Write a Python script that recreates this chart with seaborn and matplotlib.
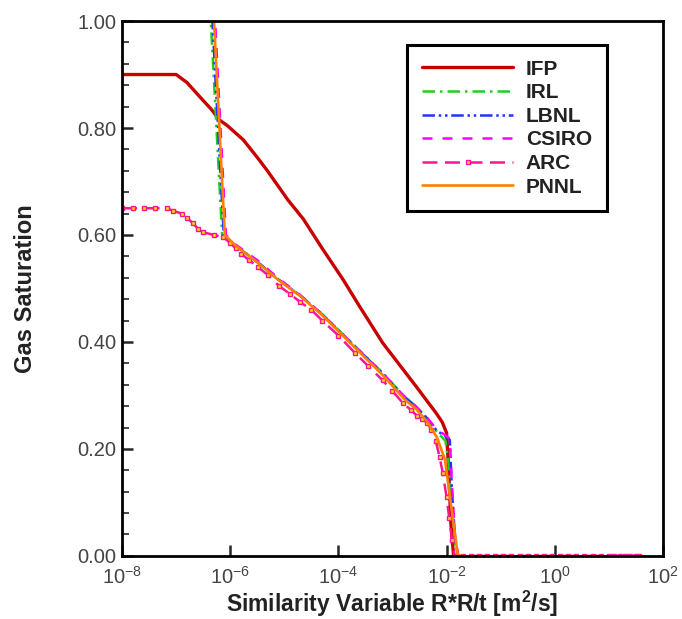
import numpy as np
import pandas as pd
import matplotlib
matplotlib.use("Agg")
import matplotlib.pyplot as plt
import seaborn as sns
from matplotlib.ticker import FixedLocator, FixedFormatter, MultipleLocator, FormatStrFormatter, NullLocator

# ---- data (x given as log10 exponents) ----
ifp_logx = [-8.0, -7.0, -6.8, -6.56, -6.35, -6.2, -6.06, -5.76, -5.5, -5.32, -4.93, -4.65,
            -4.3, -3.91, -3.6, -3.18, -2.8, -2.55, -2.35, -2.2, -2.08, -2.0, -1.96, -1.92, -1.87]
ifp_y = [0.90, 0.90, 0.885, 0.858, 0.835, 0.815, 0.805, 0.778, 0.745, 0.721, 0.665, 0.630,
         0.575, 0.516, 0.465, 0.398, 0.348, 0.315, 0.288, 0.268, 0.250, 0.230, 0.16, 0.06, 0.0]

pnnl_logx = [-8.0, -6.30, -6.10, -5.9, -5.49, -5.1, -4.71, -4.3, -3.7, -3.18, -2.8, -2.55,
             -2.35, -2.18, -2.03, -1.95, -1.88, -1.79, -1.7]
pnnl_y = [1.0, 1.0, 0.60, 0.58, 0.548, 0.515, 0.486, 0.450, 0.390, 0.338, 0.295, 0.273,
          0.250, 0.222, 0.180, 0.120, 0.067, 0.0, 0.0]

irl_logx = [-8.0, -6.36, -6.15, -5.9, -5.49, -5.1, -4.71, -4.3, -3.7, -3.18, -2.8, -2.55,
            -2.35, -2.18, -2.02, -1.96, -1.9, -1.84, -1.78]
irl_y = [1.0, 1.0, 0.60, 0.58, 0.549, 0.516, 0.487, 0.452, 0.393, 0.342, 0.300, 0.278,
         0.256, 0.232, 0.215, 0.17, 0.09, 0.02, 0.0]

lbnl_logx = [-8.0, -6.33, -6.12, -5.9, -5.49, -5.1, -4.71, -4.3, -3.7, -3.18, -2.8, -2.55,
             -2.35, -2.18, -2.0, -1.94, -1.9, -1.84, -1.79]
lbnl_y = [1.0, 1.0, 0.60, 0.58, 0.549, 0.516, 0.487, 0.451, 0.392, 0.341, 0.299, 0.277,
          0.256, 0.234, 0.222, 0.217, 0.12, 0.03, 0.0]

csiro_logx = [-8.0, -6.28, -6.08, -5.9, -5.49, -5.1, -4.71, -4.3, -3.7, -3.18, -2.8, -2.55,
              -2.35, -2.18, -2.0, -1.94, -1.9, -1.84, -1.78]
csiro_y = [1.0, 1.0, 0.60, 0.582, 0.552, 0.518, 0.488, 0.452, 0.392, 0.341, 0.300, 0.278,
           0.257, 0.236, 0.224, 0.219, 0.13, 0.03, 0.0]

arc_logx = [-8.0, -7.8, -7.6, -7.4, -7.17, -7.05, -6.9, -6.8, -6.69, -6.6, -6.5, -6.3, -6.13,
            -6.0, -5.9, -5.8, -5.65, -5.49, -5.3, -5.1, -4.9, -4.71, -4.5, -4.3, -4.0,
            -3.7, -3.45, -3.18, -3.0, -2.8, -2.65, -2.55, -2.45, -2.36, -2.28, -2.2, -2.13,
            -2.07, -2.0, -1.95, -1.9, -1.85,
            -1.7, -1.55, -1.4, -1.25, -1.1, -0.95, -0.8, -0.65, -0.5, -0.35, -0.2, -0.05,
            0.1, 0.25, 0.4, 0.55, 0.7, 0.85, 1.0, 1.1, 1.2, 1.3, 1.4, 1.5, 1.55]
arc_y = [0.65, 0.65, 0.65, 0.65, 0.65, 0.645, 0.64, 0.632, 0.622, 0.612, 0.605, 0.600, 0.596,
         0.585, 0.575, 0.565, 0.553, 0.540, 0.525, 0.505, 0.490, 0.475, 0.460, 0.440, 0.412,
         0.380, 0.355, 0.328, 0.308, 0.285, 0.272, 0.262, 0.256, 0.249, 0.235, 0.215, 0.185,
         0.155, 0.11, 0.07, 0.03, 0.0,
         0.0, 0.0, 0.0, 0.0, 0.0, 0.0, 0.0, 0.0, 0.0, 0.0, 0.0, 0.0,
         0.0, 0.0, 0.0, 0.0, 0.0, 0.0, 0.0, 0.0, 0.0, 0.0, 0.0, 0.0, 0.0]

x_tick_exps = [-8, -6, -4, -2, 0, 2]
x_tick_labels = ["10$^{-8}$", "10$^{-6}$", "10$^{-4}$", "10$^{-2}$", "10$^{0}$", "10$^{2}$"]

# ---- style ----
sns.set_style("ticks")
plt.rcParams["font.family"] = ["Liberation Sans", "DejaVu Sans"]
plt.rcParams["mathtext.fontset"] = "custom"
plt.rcParams["mathtext.rm"] = "Liberation Sans"
plt.rcParams["mathtext.it"] = "Liberation Sans:italic"
plt.rcParams["mathtext.bf"] = "Liberation Sans:bold"

fig = plt.figure(figsize=(6.82, 6.19), dpi=100)
ax = fig.add_axes([0.179, 0.102, 0.793, 0.864])

series = [
    ("IFP", ifp_logx, ifp_y, "#c80000", "-", 2.4, {}),
    ("IRL", irl_logx, irl_y, "#22cc22", (0, (5, 2, 1, 2)), 1.8, {}),
    ("LBNL", lbnl_logx, lbnl_y, "#2233ff", (0, (5, 1.5, 1, 1.5, 1, 1.5)), 1.8, {}),
    ("CSIRO", csiro_logx, csiro_y, "#ff00ff", (0, (4, 4)), 1.8, {}),
    ("ARC", arc_logx, arc_y, "#ff1493", (0, (6, 3)), 1.8,
     dict(marker="s", markersize=3.2, markerfacecolor="#ffe000", markeredgecolor="#ff1493",
          markeredgewidth=1.0)),
    ("PNNL", pnnl_logx, pnnl_y, "#ff8000", "-", 1.9, {}),
]

for name, lx, yy, col, ls, lw, extra in series:
    df = pd.DataFrame({"x": 10.0 ** np.array(lx), "y": yy})
    sns.lineplot(data=df, x="x", y="y", sort=False, estimator=None, color=col,
                 linestyle=ls, linewidth=lw, label=name, ax=ax, **extra)

ax.set_xscale("log")
ax.set_xlim(1e-8, 1e2)
ax.set_ylim(0.0, 1.0)

ax.xaxis.set_major_locator(FixedLocator([10.0 ** e for e in x_tick_exps]))
ax.xaxis.set_major_formatter(FixedFormatter(x_tick_labels))
ax.xaxis.set_minor_locator(NullLocator())
ax.yaxis.set_major_locator(MultipleLocator(0.2))
ax.yaxis.set_minor_locator(MultipleLocator(0.04))
ax.yaxis.set_major_formatter(FormatStrFormatter("%.2f"))

ax.tick_params(axis="both", which="major", direction="in", length=8, width=1.8,
               labelsize=14.5, labelcolor="#444444")
ax.tick_params(axis="x", which="major", pad=7)
ax.tick_params(axis="y", which="major", pad=4)
ax.tick_params(axis="y", which="minor", direction="in", length=5, width=1.2)
for sp in ax.spines.values():
    sp.set_visible(True)
    sp.set_linewidth(2.0)
    sp.set_color("black")

ax.set_xlabel("Similarity Variable R*R/t [m$^\\mathbf{2}$/s]", fontsize=16.5, fontweight="bold",
              labelpad=1, color="#222222")
ax.set_ylabel("Gas Saturation", fontsize=17, fontweight="bold", labelpad=29, color="#222222")

leg = ax.legend(loc="upper left", bbox_to_anchor=(0.527, 0.955), borderaxespad=0.0,
                frameon=True, fancybox=False, edgecolor="black", framealpha=1,
                handlelength=4.4, handletextpad=0.6, fontsize=15, borderpad=0.7,
                labelspacing=0.22)
leg.get_frame().set_linewidth(2.2)
for t in leg.get_texts():
    t.set_fontweight("bold")
    t.set_color("#222222")
for h in leg.legend_handles:
    if h.get_label() == "ARC":
        h.set_markevery([1])

fig.savefig("out.png", dpi=100)
